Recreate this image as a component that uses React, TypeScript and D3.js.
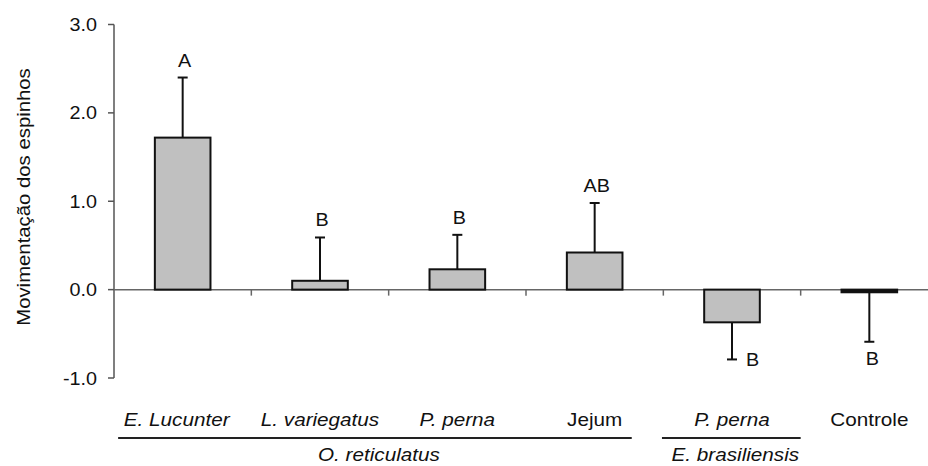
import React from 'react';
import * as d3 from 'd3';

// treatment labels, in drawing order
const categories = ['E. Lucunter', 'L. variegatus', 'P. perna', 'Jejum', 'P. perna', 'Controle'];
const italicLabel = [true, true, true, false, true, false];
// mean spine movement and its error
const means = [1.72, 0.1, 0.23, 0.42, -0.37, -0.03];
const errors = [0.68, 0.49, 0.39, 0.56, 0.42, 0.56];
// significance letters
const letters = ['A', 'B', 'B', 'AB', 'B', 'B'];
const letterPlace = ['above', 'above', 'above', 'above', 'right', 'below'];
// groups under the category labels
const groupLabels = ['O. reticulatus', 'E. brasiliensis'];
const groupFrom = [0, 4];
const groupTo = [3, 4];
const yTicks = [-1, 0, 1, 2, 3];

const width = 928;
const height = 466;
const font = '"Liberation Sans", Arial, sans-serif';

const T = ({ x, y, sx = 1.15, anchor = 'middle', italic = false, size = 18, children }: any) => (
  <text
    transform={`translate(${x},${y}) scale(${sx},1)`}
    textAnchor={anchor}
    fontStyle={italic ? 'italic' : 'normal'}
    fontSize={size}
    fontFamily={font}
    fill="#111"
  >
    {children}
  </text>
);

export default function App() {
  const axisX = 114;
  const x = d3.scaleBand<number>()
    .domain(categories.map((_, i) => i))
    .range([axisX, 938])
    .padding(0);
  const bw = x.bandwidth();
  const barW = bw * 0.405;
  const cx = (i: number) => (x(i) as number) + bw / 2;

  const y = d3.scaleLinear().domain([-1, 3]).range([378, 24.5]);
  const y0 = y(0);
  const fmt = (t: number) => d3.format('.1f')(t).replace('\u2212', '-');

  // fractional offsets of the group underlines relative to bar centres
  const lineStart = [-0.47, -0.51];
  const lineEnd = [0.27, 0.5];

  return (
    <svg width={width} height={height} style={{ position: 'absolute', left: 0, top: 0, background: '#fff' }}>
      <rect width={width} height={height} fill="#fff" />

      {/* y axis */}
      <line x1={axisX} x2={axisX} y1={y(3)} y2={y(-1)} stroke="#555" strokeWidth={1.5} />
      {yTicks.map(t => (
        <g key={t}>
          <line x1={axisX - 6} x2={axisX} y1={y(t)} y2={y(t)} stroke="#555" strokeWidth={1.5} />
          <T x={97} y={y(t) + 6.5} anchor="end" sx={1.1}>{fmt(t)}</T>
        </g>
      ))}
      <g transform={`translate(30,197) rotate(-90)`}>
        <T x={0} y={0} sx={1.13} size={18}>Movimentação dos espinhos</T>
      </g>

      {/* zero line and category ticks */}
      <line x1={axisX} x2={width} y1={y0} y2={y0} stroke="#666" strokeWidth={1.5} />
      {categories.slice(1).map((_, k) => (
        <line key={k} x1={x(k + 1) as number} x2={x(k + 1) as number} y1={y0} y2={y0 + 6} stroke="#666" strokeWidth={1.5} />
      ))}

      {/* error bars */}
      {means.map((m, i) => {
        const end = m >= 0 ? m + errors[i] : m - errors[i];
        return (
          <g key={'e' + i}>
            <line x1={cx(i)} x2={cx(i)} y1={y(m)} y2={y(end)} stroke="#111" strokeWidth={2} />
            <line x1={cx(i) - 5} x2={cx(i) + 5} y1={y(end)} y2={y(end)} stroke="#111" strokeWidth={2} />
          </g>
        );
      })}

      {/* bars */}
      {means.map((m, i) => {
        const h = Math.abs(y(m) - y0);
        return (
          <rect
            key={'b' + i}
            x={cx(i) - barW / 2}
            width={barW}
            y={Math.min(y(m), y0)}
            height={h}
            fill={h < 4 ? '#111' : '#c0c0c0'}
            stroke="#111"
            strokeWidth={2}
          />
        );
      })}

      {/* letters */}
      {means.map((m, i) => {
        const end = m >= 0 ? m + errors[i] : m - errors[i];
        const place = letterPlace[i];
        if (place === 'above') return <T key={'l' + i} x={cx(i) + 2} y={y(end) - 11} sx={1.1}>{letters[i]}</T>;
        if (place === 'right') return <T key={'l' + i} x={cx(i) + 14} y={y(end) + 7} anchor="start" sx={1.1}>{letters[i]}</T>;
        return <T key={'l' + i} x={cx(i) + 3} y={y(end) + 23} sx={1.1}>{letters[i]}</T>;
      })}

      {/* category labels */}
      {categories.map((c, i) => (
        <T key={'c' + i} x={cx(i) - (i === 0 ? 6 : 0)} y={425.5} italic={italicLabel[i]} sx={1.15}>{c}</T>
      ))}

      {/* groups */}
      {groupLabels.map((g, k) => {
        const x1 = cx(groupFrom[k]) + lineStart[k] * bw;
        const x2 = cx(groupTo[k]) + lineEnd[k] * bw;
        return (
          <g key={'g' + k}>
            <line x1={x1} x2={x2} y1={438} y2={438} stroke="#222" strokeWidth={2.2} />
            <T x={(x1 + x2) / 2 + 4} y={461} italic sx={1.15}>{g}</T>
          </g>
        );
      })}
    </svg>
  );
}
